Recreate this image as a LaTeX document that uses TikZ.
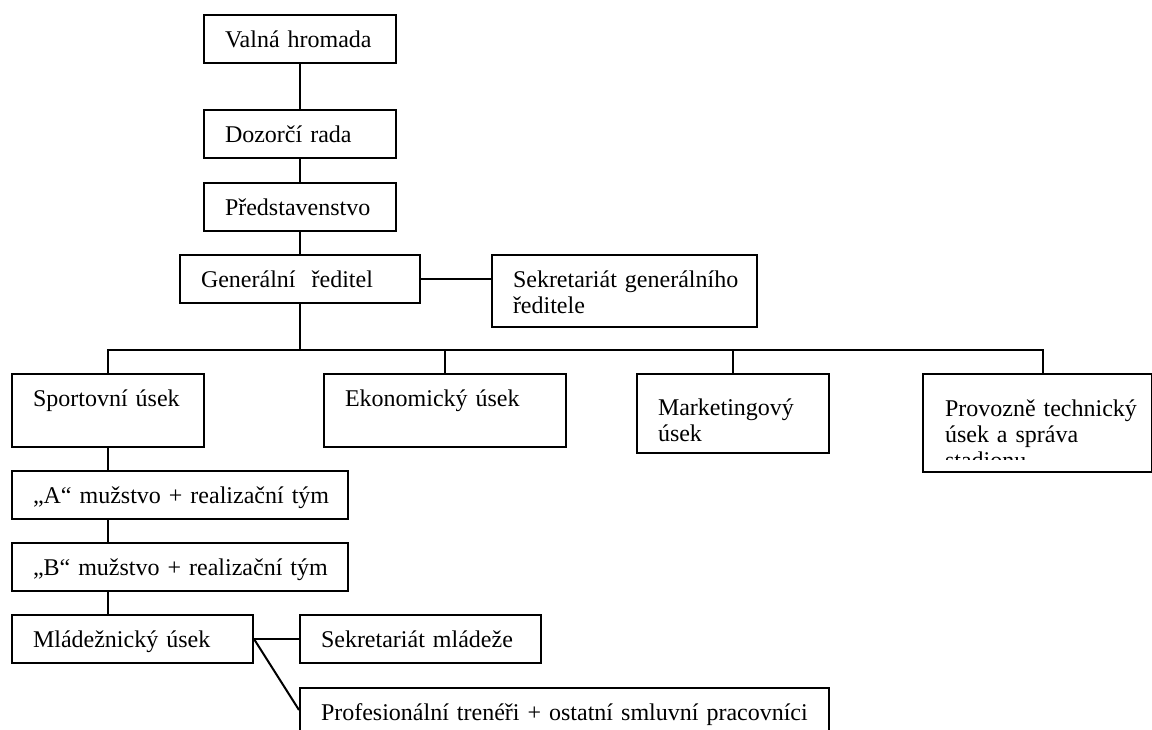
\documentclass[tikz,border=0pt]{standalone}
\usepackage{fontspec}
\setmainfont{Liberation Serif}
\usepackage{tikz}

\begin{document}
\begin{tikzpicture}[
 x=0.5pt,y=-0.5pt,
 box/.style={draw,line width=1pt,anchor=north west,align=left,
   font=\fontsize{12}{13}\selectfont,inner xsep=10.5pt,inner ysep=0pt,
   text height=16pt},
 link/.style={line width=1pt}
]
\clip (0,0) rectangle (1152,729);
\fill[white] (0,0) rectangle (1152,729);
\node[box,text width=75pt,text depth=8pt] (valna) at (203,14) {Valná hromada};
\node[box,text width=75pt,text depth=8pt] (dozor) at (203,109) {Dozorčí rada};
\node[box,text width=75pt,text depth=8pt] (predst) at (203,182) {Představenstvo};
\node[box,text width=99pt,text depth=8pt] (gen) at (179,254) {Generální\ \ ředitel};
\node[box,text width=111.5pt,text depth=20pt] (sekgen) at (491,254)
 {\mbox{Sekretariát generálního}\\ředitele};
\node[box,text width=75pt,text depth=20.5pt] (sport) at (11,373) {Sportovní úsek};
\node[box,text width=100pt,text depth=20.5pt] (ekon) at (323,373) {Ekonomický úsek};
\node[box,text width=75pt,text height=20.5pt,text depth=19pt] (mark) at (636,373)
 {Marketingový\\úsek};
\begin{scope}
\clip (923,374) rectangle (1150,459);
\node[box,draw=none,text width=92.5pt,text height=20.5pt,text depth=27.5pt] (prov)
 at (923,374) {\mbox{Provozně technický}\\úsek a správa\\stadionu};
\end{scope}
\draw[link] (prov.north west) rectangle (prov.south east);
\node[box,text width=147pt,text depth=8pt] (teamA) at (11,470)
 {\mbox{„A“ mužstvo + realizační tým}};
\node[box,text width=147pt,text depth=8pt] (teamB) at (11,542)
 {\mbox{„B“ mužstvo + realizační tým}};
\node[box,text width=99.5pt,text depth=8pt] (mladez) at (11,614) {Mládežnický úsek};
\node[box,text width=99.5pt,text depth=8pt] (sekml) at (299,614) {Sekretariát mládeže};
\node[box,text width=243.5pt,text depth=14pt] (prof) at (299,687)
 {\mbox{Profesionální trenéři + ostatní smluvní pracovníci}};
\coordinate (bus) at (299,350);
\coordinate (provin) at (1043,374);
\coordinate (profin) at (299,710);
\draw[link] (valna.south) -- (dozor.north);
\draw[link] (dozor.south) -- (predst.north);
\draw[link] (predst.south) -- (gen.north);
\draw[link] (gen.east) -- (gen.east -| sekgen.west);
\draw[link] (gen.south) -- (gen.south |- bus);
\draw[link] (sport.north) |- (provin |- bus) -- (provin);
\draw[link] (ekon.north) -- (ekon.north |- bus);
\draw[link] (mark.north) -- (mark.north |- bus);
\draw[link] (sport.south) -- (sport.south |- teamA.north);
\draw[link] (teamA.south -| sport.south) -- (teamB.north -| sport.south);
\draw[link] (teamB.south -| sport.south) -- (mladez.north -| sport.south);
\draw[link] (mladez.east) -- (sekml.west);
\draw[link] (mladez.east) -- (profin);
\end{tikzpicture}
\end{document}
